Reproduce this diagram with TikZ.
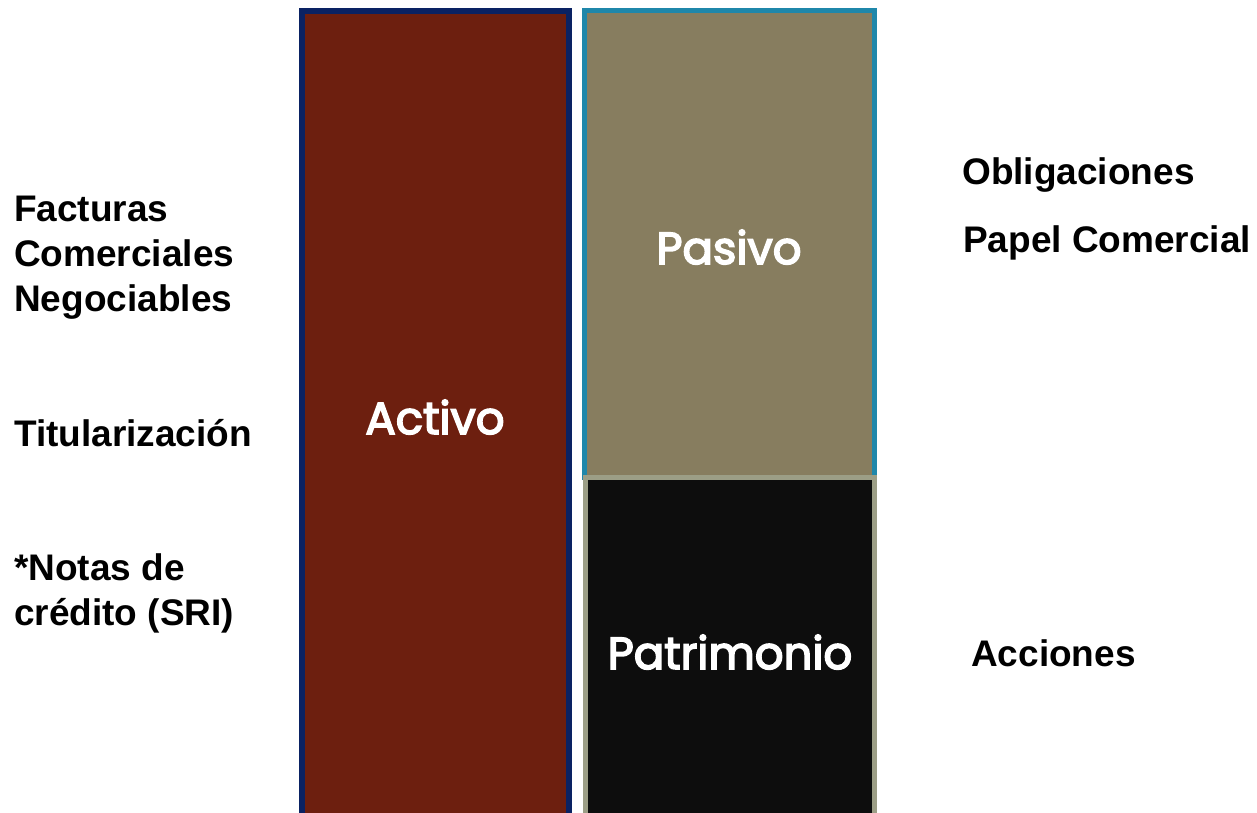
\documentclass[tikz,border=0pt]{standalone}
\usepackage{fontspec}
\setmainfont{Liberation Sans}
\newfontfamily\gothic{Poppins}[FakeBold=3.5]
\definecolor{activofill}{HTML}{6D1F0F}
\definecolor{activoline}{HTML}{0A2263}
\definecolor{pasivofill}{HTML}{877D5F}
\definecolor{pasivoline}{HTML}{1F87AA}
\definecolor{patrifill}{HTML}{0D0D0D}
\definecolor{patriline}{HTML}{9C9E86}
\tikzset{
  side/.style={anchor=base west, inner sep=0pt, font=\fontsize{37}{44}\selectfont\bfseries, text=black},
  boxlabel/.style={anchor=base, inner sep=0pt, font=\gothic\fontsize{45}{50}\selectfont, text=white},
}
\begin{document}
\begin{tikzpicture}[x=1pt,y=-1pt]
\useasboundingbox (0,0) rectangle (1257,813);
\clip (0,0) rectangle (1257,813);
% boxes
\draw[line width=6pt, draw=activoline, fill=activofill] (302,11) rectangle (569,830);
\draw[line width=5pt, draw=pasivoline, fill=pasivofill] (584.5,10.5) rectangle (874.5,477);
\draw[line width=5pt, draw=patriline, fill=patrifill] (585.5,477.5) rectangle (874.5,830);
% box labels
\node[boxlabel] (activo) at (435,434) {Activo};
\node[boxlabel] (pasivo) at (729,264) {Pasivo};
\node[boxlabel] (patrimonio) at (730,669) {Patrimonio};
% left texts
\node[side] (f1) at (14,221) {Facturas};
\node[side] (f2) at (14,266) {Comerciales};
\node[side] (f3) at (14,311) {Negociables};
\node[side] (t1) at (14,446) {Titularización};
\node[side] (n1) at (14,580) {*Notas de};
\node[side] (n2) at (14,625) {crédito (SRI)};
% right texts
\node[side] (o1) at (962,185) {Obligaciones};
\node[side] (p1) at (963,252) {Papel Comercial};
\node[side] (a1) at (971,666) {Acciones};
\end{tikzpicture}
\end{document}
